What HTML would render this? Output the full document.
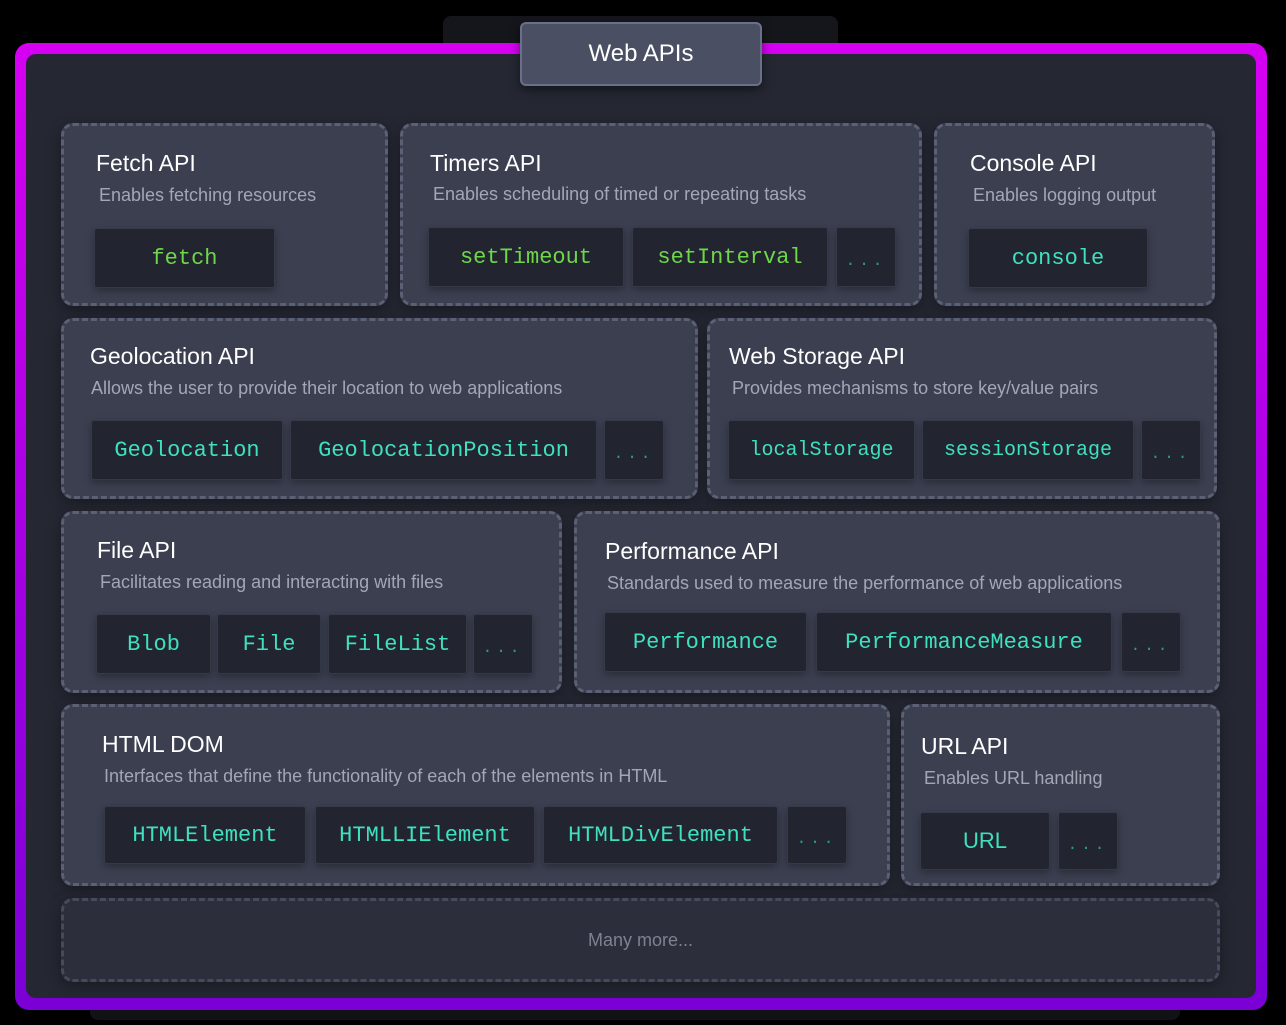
<!DOCTYPE html><html><head><style>
*{margin:0;padding:0;box-sizing:border-box}
body{width:1286px;height:1025px;background:#000;position:relative;overflow:hidden;font-family:"Liberation Sans",sans-serif}
.a{position:absolute}
.card{position:absolute;background:#3b3f50;border:3px dashed #5c6074;border-radius:12px;box-shadow:0 4px 14px rgba(0,0,0,.35)}
.t{position:absolute;color:#fff;font-size:23px;white-space:nowrap}
.d{position:absolute;color:#a3a7b5;font-size:18px;white-space:nowrap}
.c{position:absolute;background:#22252f;border:1.5px solid #353948;border-radius:3px;display:flex;align-items:center;justify-content:center;font-family:"Liberation Mono",monospace;font-size:22px;color:#3ee0c0;box-shadow:0 3px 8px rgba(0,0,0,.3)}
.g{color:#6fd64a}
.e{color:#2f9c8a;font-size:16px;letter-spacing:4px;padding-top:8px}
</style></head><body>
<div class="a" style="left:443px;top:16px;width:395px;height:40px;background:#15161b;border-radius:8px"></div>
<div class="a" style="left:90px;top:990px;width:1090px;height:30px;background:#111216;border-radius:8px"></div>
<div class="a" style="left:15px;top:43px;width:1252px;height:967px;border-radius:14px;background:linear-gradient(#d600f2,#7a00d6)"></div>
<div class="a" style="left:26px;top:54px;width:1230px;height:944px;border-radius:10px;background:#252833"></div>
<div class="a" style="left:520px;top:22px;width:242px;height:64px;background:#4a4f63;border:2px solid #6a7088;border-radius:6px;color:#fff;font-size:24px;display:flex;align-items:center;justify-content:center;box-shadow:0 4px 10px rgba(0,0,0,.5)">Web APIs</div>

<div class="card" style="left:61px;top:123px;width:327px;height:183px"></div>
<div class="t" style="left:96px;top:150px">Fetch API</div><div class="d" style="left:99px;top:185px">Enables fetching resources</div>
<div class="c g" style="left:94px;top:228px;width:181px;height:60px">fetch</div>

<div class="card" style="left:400px;top:123px;width:522px;height:183px"></div>
<div class="t" style="left:430px;top:150px">Timers API</div><div class="d" style="left:433px;top:184px">Enables scheduling of timed or repeating tasks</div>
<div class="c g" style="left:428px;top:227px;width:196px;height:60px">setTimeout</div>
<div class="c g" style="left:632px;top:227px;width:196px;height:60px">setInterval</div>
<div class="c e" style="left:836px;top:227px;width:60px;height:60px">...</div>

<div class="card" style="left:934px;top:123px;width:281px;height:183px"></div>
<div class="t" style="left:970px;top:150px">Console API</div><div class="d" style="left:973px;top:185px">Enables logging output</div>
<div class="c" style="left:968px;top:228px;width:180px;height:60px">console</div>

<div class="card" style="left:61px;top:318px;width:637px;height:181px"></div>
<div class="t" style="left:90px;top:343px">Geolocation API</div><div class="d" style="left:91px;top:378px">Allows the user to provide their location to web applications</div>
<div class="c" style="left:91px;top:420px;width:192px;height:60px">Geolocation</div>
<div class="c" style="left:290px;top:420px;width:307px;height:60px">GeolocationPosition</div>
<div class="c e" style="left:604px;top:420px;width:60px;height:60px">...</div>

<div class="card" style="left:707px;top:318px;width:510px;height:181px"></div>
<div class="t" style="left:729px;top:343px">Web Storage API</div><div class="d" style="left:732px;top:378px">Provides mechanisms to store key/value pairs</div>
<div class="c" style="left:728px;top:420px;width:187px;height:60px;font-size:20px">localStorage</div>
<div class="c" style="left:922px;top:420px;width:212px;height:60px;font-size:20px">sessionStorage</div>
<div class="c e" style="left:1141px;top:420px;width:60px;height:60px">...</div>

<div class="card" style="left:61px;top:511px;width:501px;height:182px"></div>
<div class="t" style="left:97px;top:537px">File API</div><div class="d" style="left:100px;top:572px">Facilitates reading and interacting with files</div>
<div class="c" style="left:96px;top:614px;width:115px;height:60px">Blob</div>
<div class="c" style="left:217px;top:614px;width:104px;height:60px">File</div>
<div class="c" style="left:328px;top:614px;width:139px;height:60px">FileList</div>
<div class="c e" style="left:473px;top:614px;width:60px;height:60px">...</div>

<div class="card" style="left:574px;top:511px;width:646px;height:182px"></div>
<div class="t" style="left:605px;top:538px">Performance API</div><div class="d" style="left:607px;top:573px">Standards used to measure the performance of web applications</div>
<div class="c" style="left:604px;top:612px;width:203px;height:60px">Performance</div>
<div class="c" style="left:816px;top:612px;width:296px;height:60px">PerformanceMeasure</div>
<div class="c e" style="left:1121px;top:612px;width:60px;height:60px">...</div>

<div class="card" style="left:61px;top:704px;width:829px;height:182px"></div>
<div class="t" style="left:102px;top:731px">HTML DOM</div><div class="d" style="left:104px;top:766px">Interfaces that define the functionality of each of the elements in HTML</div>
<div class="c" style="left:104px;top:806px;width:202px;height:58px">HTMLElement</div>
<div class="c" style="left:315px;top:806px;width:220px;height:58px">HTMLLIElement</div>
<div class="c" style="left:543px;top:806px;width:235px;height:58px">HTMLDivElement</div>
<div class="c e" style="left:787px;top:806px;width:60px;height:58px">...</div>

<div class="card" style="left:901px;top:704px;width:319px;height:182px"></div>
<div class="t" style="left:921px;top:733px">URL API</div><div class="d" style="left:924px;top:768px">Enables URL handling</div>
<div class="c" style="left:920px;top:812px;width:130px;height:58px;font-family:'Liberation Sans',sans-serif">URL</div>
<div class="c e" style="left:1058px;top:812px;width:60px;height:58px">...</div>

<div class="card" style="left:61px;top:898px;width:1159px;height:84px;background:#2c2f3b;border-color:#464a5a;display:flex;align-items:center;justify-content:center;color:#7d8190;font-size:18px">Many more...</div>
</body></html>
